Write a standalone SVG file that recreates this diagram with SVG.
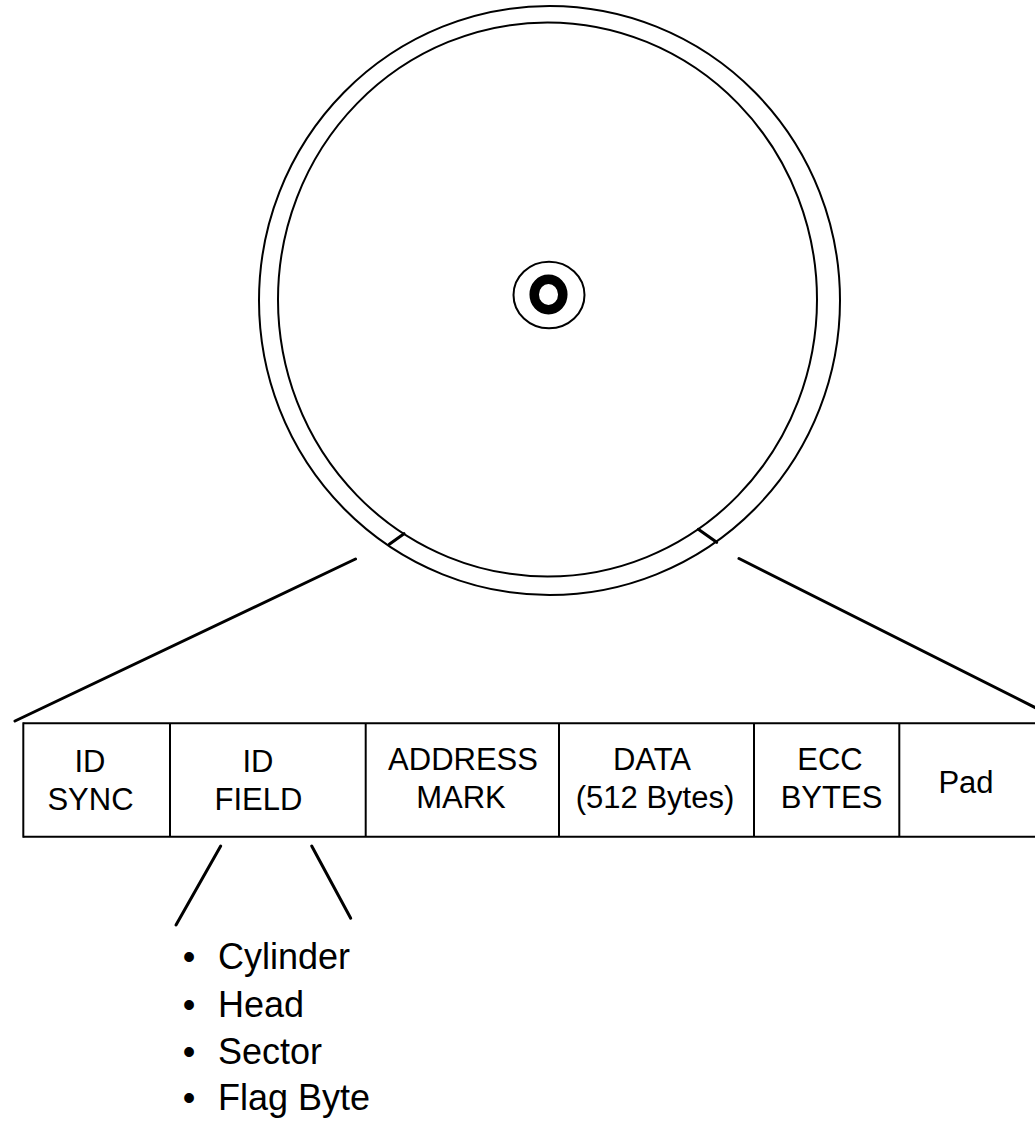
<svg xmlns="http://www.w3.org/2000/svg" width="1035" height="1122" viewBox="0 0 1035 1122">
<style>
.ln{fill:none;stroke:#000;stroke-width:2}
.th{fill:none;stroke:#000;stroke-width:3;stroke-linecap:round}
.lbl{font-family:"Liberation Sans",Arial,Helvetica,sans-serif;font-size:31px;fill:#000;text-anchor:middle}
.bul{font-family:"Liberation Sans",Arial,Helvetica,sans-serif;font-size:36px;fill:#000}
</style>
<rect width="1035" height="1122" fill="#fff"/>
<g id="disk">
<ellipse class="ln" cx="549.5" cy="300.5" rx="290.5" ry="294.5"/>
<ellipse class="ln" cx="547.5" cy="299.5" rx="269.5" ry="277"/>
<line class="th" x1="389.3" y1="544.3" x2="404" y2="533.7"/>
<line class="th" x1="698.3" y1="529.3" x2="716.7" y2="542.3"/>
</g>
<g id="hub">
<ellipse class="ln" cx="549" cy="295" rx="35.5" ry="33.3"/>
<ellipse fill="none" stroke="#000" stroke-width="9.5" cx="548.5" cy="294.5" rx="14.3" ry="15.3"/>
</g>
<g id="connectors">
<line class="th" x1="355.5" y1="559" x2="15" y2="721"/>
<line class="th" x1="739" y1="558.5" x2="1037" y2="708.5"/>
<line class="th" x1="220.7" y1="846" x2="176" y2="925"/>
<line class="th" x1="311.7" y1="846" x2="350.7" y2="918.3"/>
</g>
<g id="sector">
<line class="ln" x1="23.3" y1="723.3" x2="1035" y2="723.3"/>
<line class="ln" x1="23.3" y1="836.7" x2="1035" y2="836.7"/>
<line class="ln" x1="23.3" y1="722.3" x2="23.3" y2="837.7"/>
<line class="ln" x1="170" y1="723.3" x2="170" y2="836.7"/>
<line class="ln" x1="365.7" y1="723.3" x2="365.7" y2="836.7"/>
<line class="ln" x1="559" y1="723.3" x2="559" y2="836.7"/>
<line class="ln" x1="754" y1="723.3" x2="754" y2="836.7"/>
<line class="ln" x1="899.3" y1="723.3" x2="899.3" y2="836.7"/>
</g>
<g id="id-sync"><text class="lbl" x="90" y="771.5">ID</text><text class="lbl" x="90.5" y="810">SYNC</text></g>
<g id="id-field"><text class="lbl" x="258" y="771.5">ID</text><text class="lbl" x="258.5" y="810">FIELD</text></g>
<g id="address-mark"><text class="lbl" x="463" y="770">ADDRESS</text><text class="lbl" x="461" y="808">MARK</text></g>
<g id="data"><text class="lbl" x="652" y="770">DATA</text><text class="lbl" x="655" y="808">(512 Bytes)</text></g>
<g id="ecc-bytes"><text class="lbl" x="830" y="770">ECC</text><text class="lbl" x="831.5" y="808">BYTES</text></g>
<g id="pad"><text class="lbl" x="966" y="793">Pad</text></g>
<g id="id-field-contents">
<text class="bul" x="189" y="969" text-anchor="middle">•</text><text class="bul" x="218" y="969">Cylinder</text>
<text class="bul" x="189" y="1016.5" text-anchor="middle">•</text><text class="bul" x="218" y="1016.5">Head</text>
<text class="bul" x="189" y="1064" text-anchor="middle">•</text><text class="bul" x="218" y="1064">Sector</text>
<text class="bul" x="189" y="1110" text-anchor="middle">•</text><text class="bul" x="218" y="1110">Flag Byte</text>
</g>
</svg>
